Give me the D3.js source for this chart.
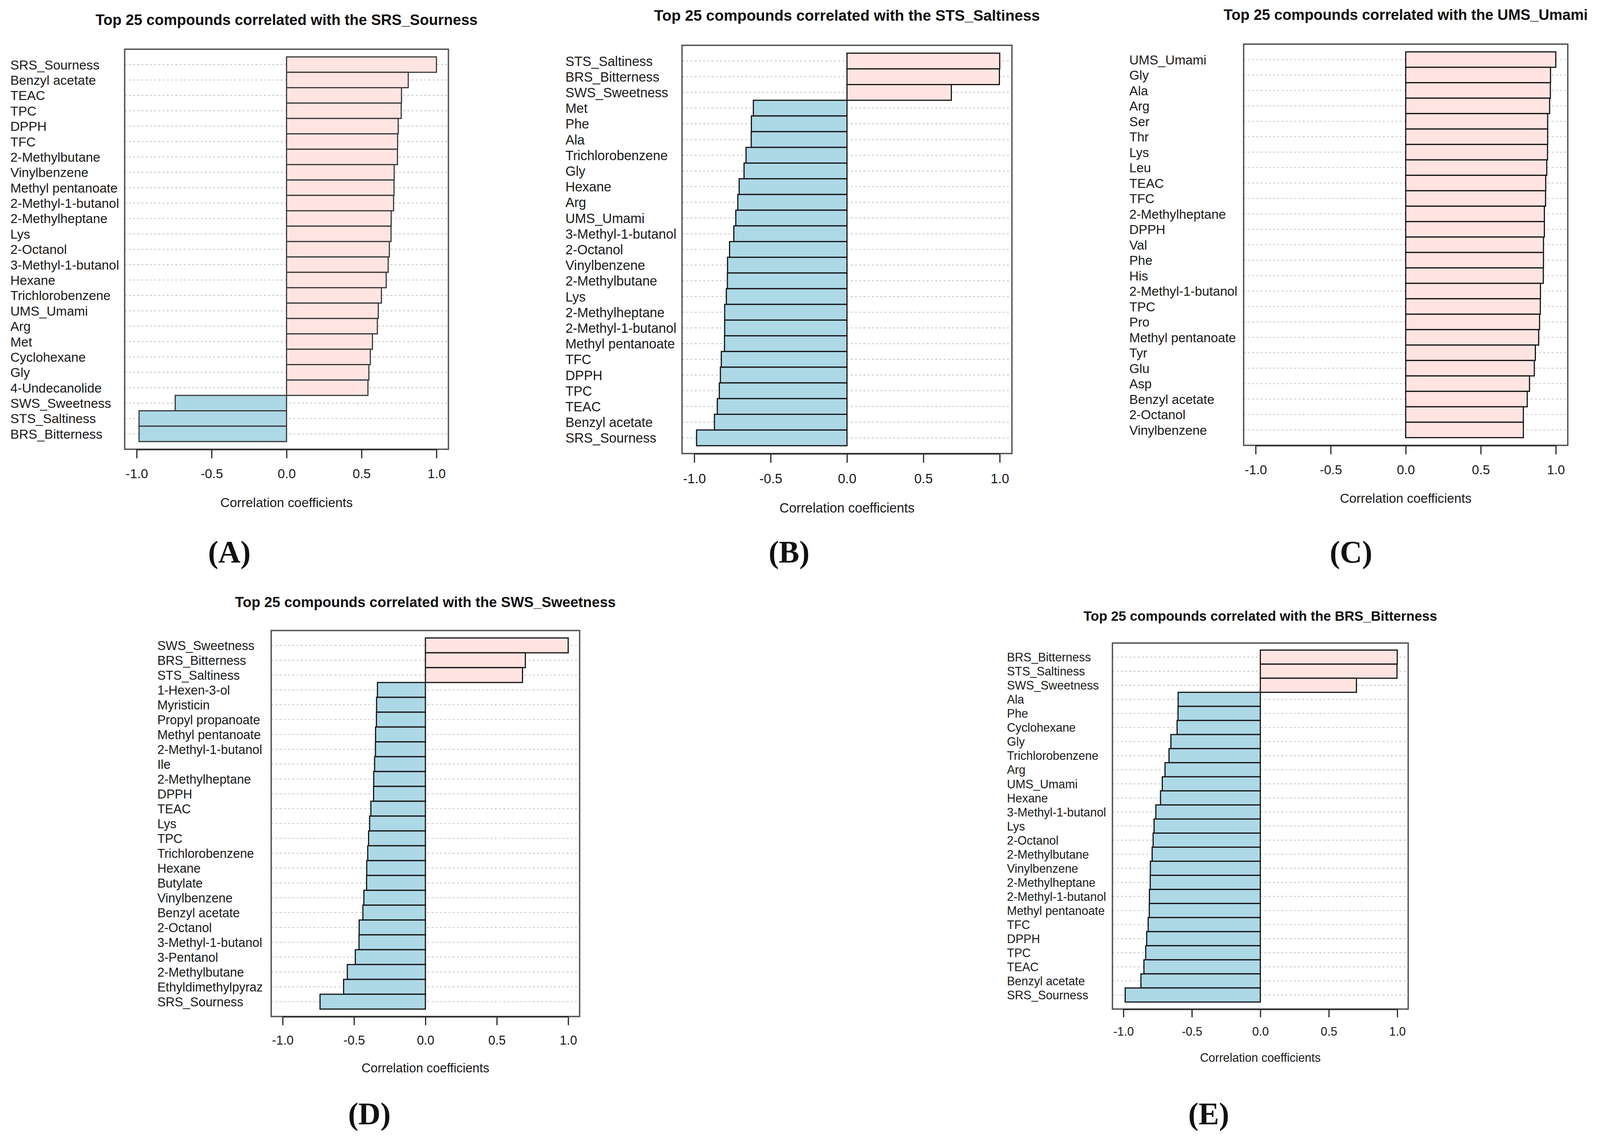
<!DOCTYPE html>
<html><head><meta charset="utf-8">
<script src="https://cdn.jsdelivr.net/npm/d3@7"></script>
<style>html,body{margin:0;padding:0;background:#fff;overflow:hidden}svg{display:block;width:100vw;height:100vh}</style></head>
<body>
<script>
// ---------- DATA ----------
const titleA = "Top 25 compounds correlated with the SRS_Sourness";
const labelsA = ["SRS_Sourness","Benzyl acetate","TEAC","TPC","DPPH","TFC","2-Methylbutane","Vinylbenzene","Methyl pentanoate","2-Methyl-1-butanol","2-Methylheptane","Lys","2-Octanol","3-Methyl-1-butanol","Hexane","Trichlorobenzene","UMS_Umami","Arg","Met","Cyclohexane","Gly","4-Undecanolide","SWS_Sweetness","STS_Saltiness","BRS_Bitterness"];
const valuesA = [1.0,0.812,0.767,0.765,0.745,0.741,0.740,0.718,0.717,0.714,0.698,0.697,0.686,0.678,0.665,0.633,0.612,0.606,0.573,0.559,0.549,0.543,-0.743,-0.984,-0.984];

const titleB = "Top 25 compounds correlated with the STS_Saltiness";
const labelsB = ["STS_Saltiness","BRS_Bitterness","SWS_Sweetness","Met","Phe","Ala","Trichlorobenzene","Gly","Hexane","Arg","UMS_Umami","3-Methyl-1-butanol","2-Octanol","Vinylbenzene","2-Methylbutane","Lys","2-Methylheptane","2-Methyl-1-butanol","Methyl pentanoate","TFC","DPPH","TPC","TEAC","Benzyl acetate","SRS_Sourness"];
const valuesB = [1.0,0.998,0.683,-0.613,-0.626,-0.627,-0.661,-0.674,-0.706,-0.715,-0.728,-0.741,-0.769,-0.782,-0.783,-0.790,-0.801,-0.801,-0.802,-0.823,-0.829,-0.836,-0.849,-0.868,-0.985];

const titleC = "Top 25 compounds correlated with the UMS_Umami";
const labelsC = ["UMS_Umami","Gly","Ala","Arg","Ser","Thr","Lys","Leu","TEAC","TFC","2-Methylheptane","DPPH","Val","Phe","His","2-Methyl-1-butanol","TPC","Pro","Methyl pentanoate","Tyr","Glu","Asp","Benzyl acetate","2-Octanol","Vinylbenzene"];
const valuesC = [1.0,0.965,0.964,0.959,0.946,0.946,0.945,0.940,0.933,0.932,0.924,0.924,0.918,0.918,0.917,0.898,0.897,0.892,0.886,0.864,0.857,0.825,0.810,0.784,0.784];

const titleD = "Top 25 compounds correlated with the SWS_Sweetness";
const labelsD = ["SWS_Sweetness","BRS_Bitterness","STS_Saltiness","1-Hexen-3-ol","Myristicin","Propyl propanoate","Methyl pentanoate","2-Methyl-1-butanol","Ile","2-Methylheptane","DPPH","TEAC","Lys","TPC","Trichlorobenzene","Hexane","Butylate","Vinylbenzene","Benzyl acetate","2-Octanol","3-Methyl-1-butanol","3-Pentanol","2-Methylbutane","Ethyldimethylpyraz","SRS_Sourness"];
const valuesD = [1.0,0.700,0.680,-0.336,-0.342,-0.343,-0.349,-0.350,-0.356,-0.362,-0.363,-0.382,-0.391,-0.398,-0.404,-0.411,-0.412,-0.431,-0.438,-0.464,-0.465,-0.491,-0.547,-0.573,-0.738];

const titleE = "Top 25 compounds correlated with the BRS_Bitterness";
const labelsE = ["BRS_Bitterness","STS_Saltiness","SWS_Sweetness","Ala","Phe","Cyclohexane","Gly","Trichlorobenzene","Arg","UMS_Umami","Hexane","3-Methyl-1-butanol","Lys","2-Octanol","2-Methylbutane","Vinylbenzene","2-Methylheptane","2-Methyl-1-butanol","Methyl pentanoate","TFC","DPPH","TPC","TEAC","Benzyl acetate","SRS_Sourness"];
const valuesE = [1.0,0.998,0.702,-0.600,-0.601,-0.608,-0.653,-0.667,-0.696,-0.716,-0.729,-0.763,-0.776,-0.783,-0.790,-0.803,-0.804,-0.810,-0.811,-0.819,-0.830,-0.837,-0.850,-0.872,-0.987];

const tickValues = [-1.0,-0.5,0.0,0.5,1.0];
const tickLabels = ["-1.0","-0.5","0.0","0.5","1.0"];
const axisTitle = "Correlation coefficients";
const panelTags = ["(A)","(B)","(C)","(D)","(E)"];

// ---------- LAYOUT ----------
const W = 4171, H = 2913;
const layout = [
  {bx0:325, bx1:1169, by0:126, by1:1150, lx:27,   fs:34,   tagX:598,  tagY:1440},
  {bx0:1778,bx1:2638, by0:116, by1:1161, lx:1474, fs:34.7, tagX:2057, tagY:1440},
  {bx0:3242,bx1:4087, by0:113, by1:1140, lx:2944, fs:33.8, tagX:3522, tagY:1440},
  {bx0:707, bx1:1511, by0:1614,by1:2602, lx:410,  fs:32.8, tagX:963,  tagY:2878},
  {bx0:2900,bx1:3671, by0:1646,by1:2583, lx:2625, fs:31,   tagX:3151, tagY:2878}
];
const panels = [
  {title:titleA, labels:labelsA, values:valuesA},
  {title:titleB, labels:labelsB, values:valuesB},
  {title:titleC, labels:labelsC, values:valuesC},
  {title:titleD, labels:labelsD, values:valuesD},
  {title:titleE, labels:labelsE, values:valuesE}
];

const svg = d3.select("body").append("svg")
  .attr("viewBox",`0 0 ${W} ${H}`).attr("preserveAspectRatio","none")
  .style("font-family","'Liberation Sans', Arial, sans-serif");
svg.append("rect").attr("width",W).attr("height",H).attr("fill","#fff");

panels.forEach((p,i) => {
  const L = layout[i];
  const FS = L.fs, s = FS/34;
  const g = svg.append("g");
  const x = d3.scaleLinear().domain([-1.08,1.08]).range([L.bx0,L.bx1]);
  const y = d3.scaleBand().domain(d3.range(p.labels.length))
    .range([L.by0,L.by1]).paddingInner(0).paddingOuter(0.5);

  // grid lines
  g.selectAll("line.grid").data(p.labels).join("line")
    .attr("x1",L.bx0).attr("x2",L.bx1)
    .attr("y1",(d,j)=>y(j)+y.bandwidth()/2).attr("y2",(d,j)=>y(j)+y.bandwidth()/2)
    .attr("stroke","#c4c4c4").attr("stroke-width",2.2).attr("stroke-dasharray","5,6");

  // bars
  g.selectAll("rect.bar").data(p.values).join("rect")
    .attr("x",d=>x(Math.min(0,d))).attr("width",d=>Math.abs(x(d)-x(0)))
    .attr("y",(d,j)=>y(j)).attr("height",y.bandwidth())
    .attr("fill",d=>d>=0?"#FFE4E1":"#ADD8E6")
    .attr("stroke",i===0?"#3a3a3a":"#141414").attr("stroke-width",3);

  // box
  g.append("rect").attr("x",L.bx0).attr("y",L.by0)
    .attr("width",L.bx1-L.bx0).attr("height",L.by1-L.by0)
    .attr("fill","none").attr("stroke","#505050").attr("stroke-width",3.5);

  // x axis
  const ax = d3.axisBottom(x).tickValues(tickValues)
    .tickFormat((d,k)=>tickLabels[k]).tickSize(22*s).tickPadding(27*s);
  const axG = g.append("g").attr("transform",`translate(0,${L.by1+1})`).call(ax);
  axG.select(".domain").attr("d",`M${x(-1)},0H${x(1)}`).attr("stroke","#222").attr("stroke-width",3);
  axG.selectAll(".tick line").attr("stroke","#222").attr("stroke-width",3);
  axG.selectAll(".tick text").attr("font-size",FS).attr("fill","#1a1a1a")
    .attr("font-family","'Liberation Sans', Arial, sans-serif");

  // axis title
  g.append("text").attr("x",x(0)).attr("y",L.by1+148*s)
    .attr("text-anchor","middle").attr("font-size",FS).attr("fill","#1a1a1a").text(axisTitle);

  // category labels
  g.selectAll("text.lab").data(p.labels).join("text")
    .attr("x",L.lx).attr("y",(d,j)=>y(j)+y.bandwidth()/2)
    .attr("dy","0.36em").attr("font-size",FS).attr("fill","#1a1a1a").text(d=>d);

  // title
  g.append("text").attr("x",(L.bx0+L.bx1)/2).attr("y",L.by0-62*s)
    .attr("text-anchor","middle").attr("font-size",FS*1.14).attr("font-weight","bold")
    .attr("fill","#111").text(p.title);

  // panel tag
  g.append("text").attr("x",L.tagX).attr("y",L.tagY)
    .attr("text-anchor","middle").attr("font-size",80).attr("font-weight","bold")
    .attr("font-family","'Liberation Serif','Times New Roman',serif")
    .attr("fill","#111").text(panelTags[i]);
});
</script>
</body></html>
